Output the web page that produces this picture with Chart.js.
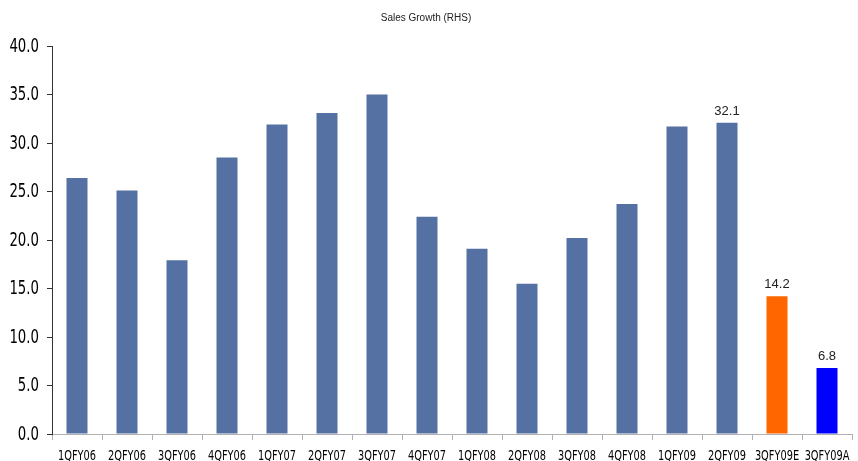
<!DOCTYPE html>
<html>
<head>
<meta charset="utf-8">
<script src="https://cdn.jsdelivr.net/npm/chart.js@4/dist/chart.umd.min.js"></script>
<style>
  html, body { margin: 0; padding: 0; background: #fff; }
  #salesChart { display: block; }
</style>
</head>
<body>
<canvas id="salesChart" width="858" height="461"></canvas>
<script>
// Catégories (trimestres)
const quarters = ["1QFY06", "2QFY06", "3QFY06", "4QFY06", "1QFY07", "2QFY07", "3QFY07", "4QFY07",
  "1QFY08", "2QFY08", "3QFY08", "4QFY08", "1QFY09", "2QFY09", "3QFY09E", "3QFY09A"];

// Croissance des ventes (%)
const salesGrowth = [26.4, 25.1, 17.9, 28.5, 31.9, 33.1, 35.0, 22.4,
  19.1, 15.5, 20.2, 23.7, 31.7, 32.1, 14.2, 6.8];

// Graduations de l'axe Y
const yTicks = [0, 5, 10, 15, 20, 25, 30, 35, 40];

// Couleurs des barres
const barColors = quarters.map((q) => q === "3QFY09E" ? "#ff6600" : q === "3QFY09A" ? "#0000ff" : "#5571a3");

// Barres qui portent une étiquette
const labelledBars = ["2QFY09", "3QFY09E", "3QFY09A"];

// Police étroite simulée (compression horizontale)
const narrowScale = 0.7;

// Dessine un texte compressé horizontalement
function drawNarrow(ctx, text, x, y, align) {
  ctx.save();
  ctx.translate(x, y);
  ctx.scale(narrowScale, 1);
  ctx.textAlign = align;
  ctx.fillText(text, 0, 0);
  ctx.restore();
}

// Plugin : étiquettes des axes en police étroite
const narrowTicks = {
  id: "narrowTicks",
  afterDraw(chart) {
    const ctx = chart.ctx;
    const xScale = chart.scales.x;
    const yScale = chart.scales.y;
    ctx.save();
    ctx.fillStyle = "#000";
    ctx.textBaseline = "middle";
    ctx.font = "14px 'DejaVu Sans', sans-serif";
    quarters.forEach((q, i) => {
      drawNarrow(ctx, q, xScale.getPixelForValue(i), xScale.top + 22, "center");
    });
    ctx.font = "19px 'DejaVu Sans', sans-serif";
    yTicks.forEach((v) => {
      drawNarrow(ctx, v.toFixed(1), yScale.right - 13, yScale.getPixelForValue(v) + 1, "right");
    });
    ctx.restore();
  }
};

// Petit plugin pour écrire les valeurs au-dessus des barres
const valueLabels = {
  id: "valueLabels",
  afterDatasetsDraw(chart) {
    const ctx = chart.ctx;
    const meta = chart.getDatasetMeta(0);
    ctx.save();
    ctx.font = "13px 'Liberation Sans', Arial, sans-serif";
    ctx.fillStyle = "#222";
    ctx.textAlign = "center";
    ctx.textBaseline = "bottom";
    meta.data.forEach((bar, i) => {
      if (labelledBars.includes(quarters[i])) {
        ctx.fillText(salesGrowth[i].toFixed(1), bar.x, bar.y - 5);
      }
    });
    ctx.restore();
  }
};

const ctx = document.getElementById("salesChart").getContext("2d");
new Chart(ctx, {
  type: "bar",
  data: {
    labels: quarters,
    datasets: [{
      label: "Sales Growth (RHS)",
      data: salesGrowth,
      backgroundColor: barColors,
      categoryPercentage: 1,
      barPercentage: 0.42
    }]
  },
  options: {
    responsive: false,
    animation: false,
    layout: { padding: { top: 0, right: 6, left: 0, bottom: 0 } },
    plugins: {
      legend: { display: false },
      tooltip: { enabled: false },
      title: {
        display: true,
        text: "Sales Growth (RHS)",
        color: "#222",
        font: { family: "'Liberation Sans', Arial, sans-serif", size: 10, weight: "normal" },
        padding: { top: 12, bottom: 22 }
      }
    },
    scales: {
      x: {
        offset: true,
        grid: { offset: true, drawOnChartArea: false, drawTicks: true, tickLength: 6, color: "#b0b0b0" },
        border: { color: "#b0b0b0" },
        ticks: { display: false, autoSkip: false },
        afterFit(scale) { scale.height = 27; }
      },
      y: {
        min: 0,
        max: 40,
        ticks: { display: false, stepSize: 5 },
        grid: { drawOnChartArea: false, drawTicks: true, tickLength: 5, color: "#333" },
        border: { color: "#333" },
        afterFit(scale) { scale.width = 52; }
      }
    }
  },
  plugins: [valueLabels, narrowTicks]
});
</script>
</body>
</html>
